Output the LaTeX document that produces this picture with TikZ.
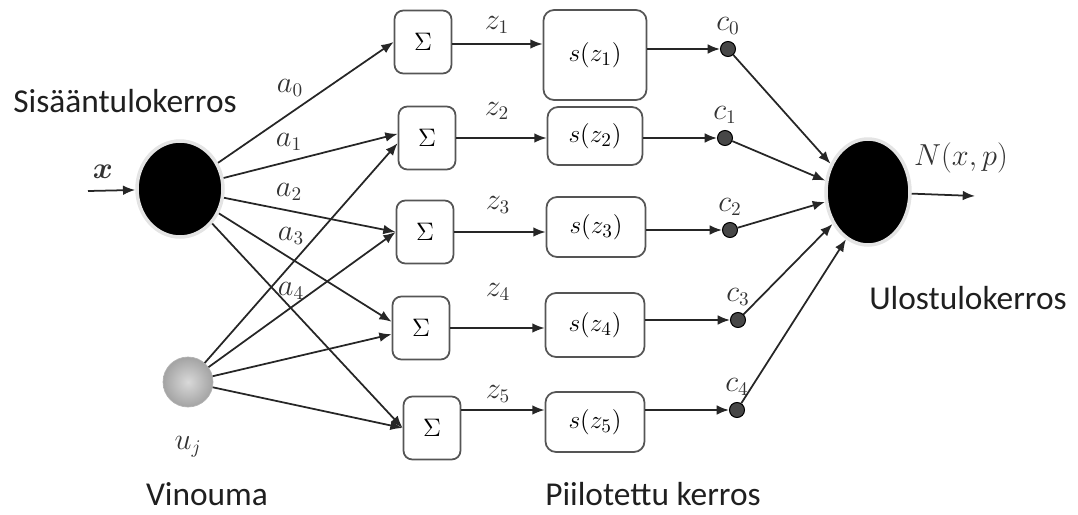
\documentclass[tikz,border=0pt]{standalone}
\usepackage{amsmath}
\usepackage{fontspec}
\setmainfont{Carlito}
\usepackage{tikz}
\usetikzlibrary{positioning,shapes.geometric,arrows.meta}
\usepackage{xcolor}
\definecolor{LineGray}{HTML}{262626}
\definecolor{BoxGray}{HTML}{555555}
\definecolor{HaloGray}{HTML}{E4E4E4}

\begin{document}
\begin{tikzpicture}[x=0.02cm, y=-0.02cm,
				neuron/.style={ellipse, fill=black, draw=HaloGray, line width=2pt,
					inner sep=0pt, minimum width=1.72cm, minimum height=1.92cm},
				biasball/.style={circle, inner color=gray!30, outer color=gray!72,
					draw=gray!60, line width=0.4pt, inner sep=0pt, minimum size=1.0cm},
				sumbox/.style={draw=BoxGray, line width=1pt, rounded corners=5pt,
					minimum width=1.14cm, minimum height=1.26cm,
					font=\fontsize{15}{17}\selectfont},
				actbox/.style={draw=BoxGray, line width=1pt, rounded corners=6pt,
					minimum width=1.98cm, minimum height=1.2cm,
					font=\fontsize{15}{17}\selectfont},
				weight/.style={circle, fill=black!72, draw=black, line width=0.6pt,
					inner sep=0pt, minimum size=0.3cm},
				lbl/.style={font=\fontsize{16}{18}\selectfont, text=black!80, inner sep=1pt},
				layer/.style={font=\fontsize{19}{22}\selectfont, text=black!88},
				arrow/.style={-{Latex[length=7pt,width=5.5pt]}, line width=1pt, LineGray}
				]
				\useasboundingbox (0,0) rectangle (1078,514);
				% neurons
				\node[neuron] (in) at (180,189) {};
				\node[biasball] (bias) at (188,382) {};
				\node[neuron, minimum width=1.68cm, minimum height=2.12cm] (out) at (868,192) {};
				% summing boxes
				\node[sumbox] (sum1) at (423,42) {$\Sigma$};
				\node[sumbox] (sum2) at (427,138) {$\Sigma$};
				\node[sumbox] (sum3) at (425,232) {$\Sigma$};
				\node[sumbox] (sum4) at (421,328) {$\Sigma$};
				\node[sumbox] (sum5) at (432,428) {$\Sigma$};
				% activation boxes
				\node[actbox, minimum width=2.06cm, minimum height=1.8cm] (act1) at (595,55) {$s(z_1)$};
				\node[actbox, minimum width=1.9cm, minimum height=1.16cm] (act2) at (595,136) {$s(z_2)$};
				\node[actbox] (act3) at (596,227) {$s(z_3)$};
				\node[actbox, minimum height=1.28cm] (act4) at (595,325) {$s(z_4)$};
				\node[actbox] (act5) at (595,422) {$s(z_5)$};
				% output weights
				\node[weight] (c0) at (728,49) {};
				\node[weight] (c1) at (725,138) {};
				\node[weight] (c2) at (730,230) {};
				\node[weight] (c3) at (738,320) {};
				\node[weight] (c4) at (737,410) {};
				\node[lbl, above=0.08cm of c0] (lc0) {$c_0$};
				\node[lbl, above=0.08cm of c1] (lc1) {$c_1$};
				\node[lbl, above=0.08cm of c2] (lc2) {$c_2$};
				\node[lbl, above=0.08cm of c3] (lc3) {$c_3$};
				\node[lbl, above=0.08cm of c4] (lc4) {$c_4$};
				% input and output
				\coordinate (xin) at (88,191);
				\coordinate (nout) at (975,196);
				\draw[arrow] (xin) -- (in);
				\draw[arrow] (out) -- (nout);
				\node[lbl] (lx) at (103,172) {$\boldsymbol{x}$};
				\node[lbl] (lnout) at (961,158) {$N(x,p)$};
				\node[lbl] (luj) at (188,447) {$u_j$};
				% weights a
				\draw[arrow] (in) -- (sum1.west);
				\draw[arrow] (in) -- (sum2.172);
				\draw[arrow] (in) -- (sum3.west);
				\draw[arrow] (in) -- (sum4.168);
				\draw[arrow] (in) -- (sum5.west);
				\node[lbl] (la0) at (290,88) {$a_0$};
				\node[lbl] (la1) at (289,142) {$a_1$};
				\node[lbl] (la2) at (289,192) {$a_2$};
				\node[lbl] (la3) at (291,236) {$a_3$};
				\node[lbl] (la4) at (291,291) {$a_4$};
				% bias connections
				\draw[arrow] (bias) -- (sum2.190);
				\draw[arrow] (bias) -- (sum3.west);
				\draw[arrow] (bias) -- (sum4.192);
				\draw[arrow] (bias) -- (sum5.west);
				% sums to activations
				\draw[arrow] (sum1.east |- 0,44) -- (act1.west |- 0,44);
				\draw[arrow] (sum2.east) -- (sum2.east -| act2.west);
				\draw[arrow] (sum3.east) -- (sum3.east -| act3.west);
				\draw[arrow] (sum4.east) -- (sum4.east -| act4.west);
				\draw[arrow] (sum5.east |- 0,410) -- (act5.west |- 0,410);
				\node[lbl] (lz1) at (497,25) {$z_1$};
				\node[lbl] (lz2) at (497,111) {$z_2$};
				\node[lbl] (lz3) at (498,205) {$z_3$};
				\node[lbl] (lz4) at (498,292) {$z_4$};
				\node[lbl] (lz5) at (498,394) {$z_5$};
				% activations to weights
				\draw[arrow] (act1.east |- c0) -- (c0);
				\draw[arrow] (act2.east |- c1) -- (c1);
				\draw[arrow] (act3.east |- c2) -- (c2);
				\draw[arrow] (act4.east |- c3) -- (c3);
				\draw[arrow] (act5.east |- c4) -- (c4);
				% weights to output
				\draw[arrow] (c0) -- (out.143);
				\draw[arrow] (c1) -- (out.165);
				\draw[arrow] (c2) -- (out.193);
				\draw[arrow] (c3) -- (out.222);
				\draw[arrow] (c4) -- (out.245);
				% layer names
				\node[layer] (tin) at (125,101) {Sisääntulokerros};
				\node[layer] (tout) at (968,298) {Ulostulokerros};
				\node[layer] (tbias) at (207,494) {Vinouma};
				\node[layer] (thid) at (653,494) {Piilotettu kerros};
			\end{tikzpicture}
\end{document}
